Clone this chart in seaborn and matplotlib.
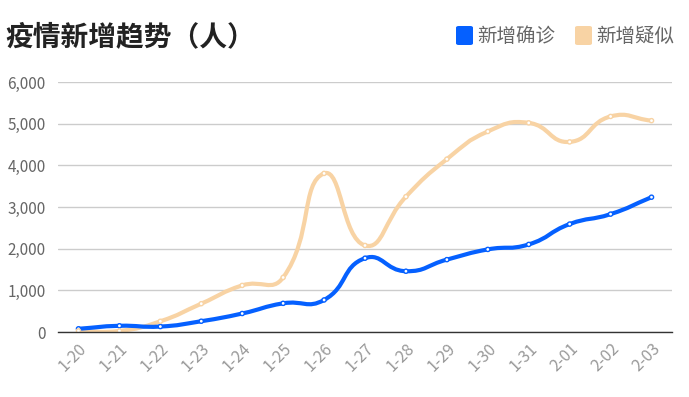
import numpy as np
import pandas as pd
import matplotlib
matplotlib.use("Agg")
import matplotlib.pyplot as plt
from matplotlib.path import Path
from matplotlib.patches import PathPatch, FancyBboxPatch
from matplotlib.ticker import FuncFormatter
import seaborn as sns

# Data
dates = ["1-20", "1-21", "1-22", "1-23", "1-24", "1-25", "1-26", "1-27",
         "1-28", "1-29", "1-30", "1-31", "2-01", "2-02", "2-03"]
confirmed = [77, 149, 131, 259, 444, 688, 769, 1771, 1459, 1737, 1982, 2102, 2590, 2829, 3235]
suspected = [27, 26, 257, 680, 1118, 1309, 3806, 2077, 3248, 4148, 4812, 5019, 4562, 5173, 5072]
series_names = ["新增确诊", "新增疑似"]

BLUE = "#0560ff"
ORANGE = "#f8d3a4"

sns.set_theme(style="white")
plt.rcParams["font.family"] = ["Noto Sans CJK SC", "DejaVu Sans"]

df = pd.DataFrame({
    "date": dates * 2,
    "idx": list(range(len(dates))) * 2,
    "value": confirmed + suspected,
    "series": [series_names[0]] * len(dates) + [series_names[1]] * len(dates),
})


def smooth_path(xs, ys, smooth=0.5, yscale=1000.0):
    """Bezier path through the points, control points like a cardinal spline."""
    pts = np.column_stack([xs, np.asarray(ys, dtype=float) / yscale])
    n = len(pts)
    cps = []
    for i in range(n):
        prev = pts[max(i - 1, 0)]
        nxt = pts[min(i + 1, n - 1)]
        cur = pts[i]
        v = (nxt - prev) * smooth
        d0 = np.hypot(*(cur - prev))
        d1 = np.hypot(*(cur - nxt))
        s = d0 + d1
        if s > 0:
            d0, d1 = d0 / s, d1 / s
        cps.append((cur - v * d0, cur + v * d1))
    verts = [pts[0]]
    codes = [Path.MOVETO]
    for i in range(n - 1):
        verts += [cps[i][1], cps[i + 1][0], pts[i + 1]]
        codes += [Path.CURVE4] * 3
    verts = np.array(verts)
    verts[:, 1] *= yscale
    return Path(verts, codes)


fig = plt.figure(figsize=(6.89, 3.97), dpi=100)
ax = fig.add_axes([0.0842, 0.1637, 0.8911, 0.6298])

for name, vals, col in [(series_names[1], suspected, ORANGE), (series_names[0], confirmed, BLUE)]:
    path = smooth_path(np.arange(len(dates)), vals)
    ax.add_patch(PathPatch(path, facecolor="none", edgecolor=col, lw=3.0,
                           capstyle="round", joinstyle="round", zorder=3))

# white point markers on top of the smooth lines
sns.scatterplot(data=df, x="idx", y="value", hue="series",
                palette={series_names[0]: BLUE, series_names[1]: ORANGE},
                marker="o", s=9, linewidth=1.0, legend=False, ax=ax, zorder=4)
coll = ax.collections[-1]
coll.set_facecolor("white")
coll.set_edgecolor([BLUE if s == series_names[0] else ORANGE for s in df["series"]])

ax.set_xlim(-0.5, len(dates) - 0.5)
ax.set_ylim(0, 6000)
ax.set_yticks(range(0, 6001, 1000))
ax.yaxis.set_major_formatter(FuncFormatter(lambda v, p: f"{int(v):,}"))
ax.set_xticks(range(len(dates)))
ax.set_xticklabels(dates, rotation=45, ha="right", rotation_mode="anchor",
                   color="#999999", fontsize=11.5)
ax.tick_params(axis="y", labelsize=11, labelcolor="#666666", length=0, pad=9)
ax.tick_params(axis="x", length=0, pad=6)
ax.set_xlabel("")
ax.set_ylabel("")
ax.grid(axis="y", color="#cccccc", lw=1)
ax.set_axisbelow(True)
for side in ["left", "right", "top"]:
    ax.spines[side].set_visible(False)
ax.spines["bottom"].set_color("#333333")
ax.spines["bottom"].set_linewidth(1)
ax.spines["bottom"].set_zorder(5)

# Title
fig.text(5 / 689, 1 - 37 / 397, "疫情新增趋势（人）", fontsize=20, fontweight="bold",
         color="#222222", va="center", ha="left")

# Legend
for x0, col, label in [(456, BLUE, series_names[0]), (575, ORANGE, series_names[1])]:
    fig.patches.append(FancyBboxPatch((x0 / 689, 1 - 45 / 397), 17 / 689, 19 / 397,
                                      boxstyle="round,pad=0,rounding_size=0.004",
                                      transform=fig.transFigure, facecolor=col,
                                      edgecolor="none"))
    fig.text((x0 + 21) / 689, 1 - 36 / 397, label, fontsize=14, color="#666666",
             va="center", ha="left")

fig.savefig("out.png", dpi=100)
